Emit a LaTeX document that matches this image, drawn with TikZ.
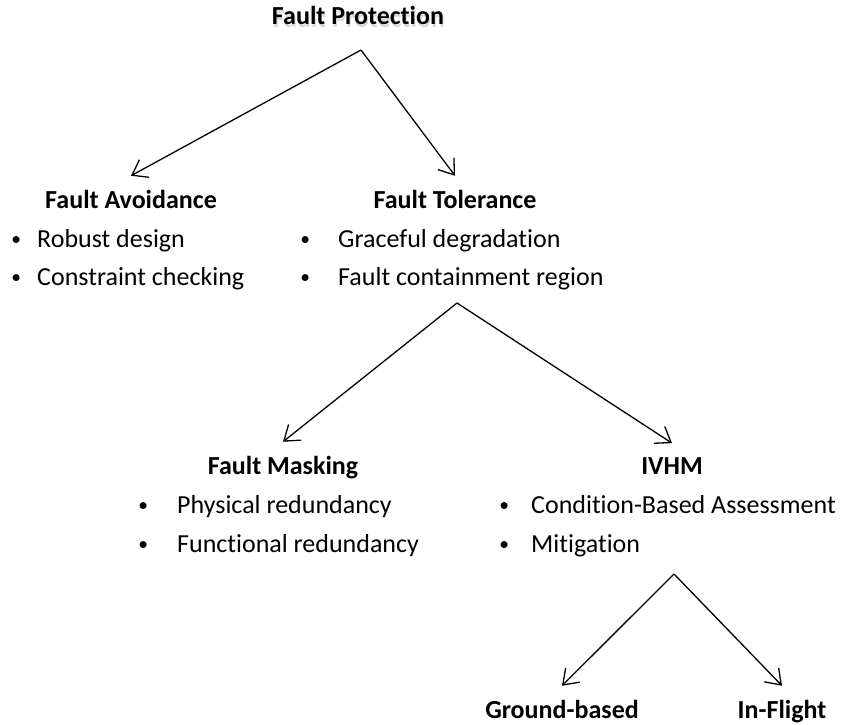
\documentclass[tikz,border=0pt]{standalone}
\usepackage{graphicx}
\usepackage{fontspec}
\setmainfont{Carlito}[Ligatures=NoCommon]
\usetikzlibrary{arrows.meta,positioning,calc}

\newcommand{\basefont}{\fontsize{26}{31}\selectfont}
% soft drop shadow under the title text
\newcommand{\shadowtext}[1]{\rlap{\raisebox{-2.5pt}{\kern1pt\textcolor{black!14}{#1}}}#1}
% bullet hung to the left of an item
\newcommand{\bul}[1]{\llap{\raisebox{1.5pt}{\scalebox{0.75}{\textbullet}}\hspace{#1}}}

\tikzset{
  headnode/.style={font=\basefont\bfseries, inner sep=0pt, outer ysep=14pt, anchor=base},
  itemnode/.style={font=\basefont, inner sep=0pt, anchor=base west},
  treearrow/.style={line width=1.3pt, -{Straight Barb[length=14pt,width=20pt]}},
}

\begin{document}
\begin{tikzpicture}[x=1pt, y=-1pt]
  \useasboundingbox (0,0) rectangle (844,725);

  % ── Root ──
  \node[headnode] (FP) at (358,25) {\shadowtext{Fault Protection}};
  \coordinate (FPapex) at (361,50);

  % ── First level ──
  \node[headnode] (FA) at (131,208) {Fault Avoidance};
  \node[itemnode] (FA1) at (37,247) {\bul{16pt}Robust design};
  \node[itemnode] (FA2) at (37,285) {\bul{16pt}Constraint checking};

  \node[headnode] (FT) at (455,208) {Fault Tolerance};
  \node[itemnode] (FT1) at (338,247) {\bul{28pt}Graceful degradation};
  \node[itemnode] (FT2) at (338,285) {\bul{28pt}Fault containment region};
  \coordinate (FTapex) at (457,303);

  % ── Second level ──
  \node[headnode] (FM) at (283,474) {Fault Masking};
  \node[itemnode] (FM1) at (177,513) {\bul{29pt}Physical redundancy};
  \node[itemnode] (FM2) at (177,552) {\bul{29pt}Functional redundancy};

  \node[headnode] (IV) at (672,474) {IVHM};
  \node[itemnode] (IV1) at (531,513) {\bul{22pt}Condition-Based Assessment};
  \node[itemnode] (IV2) at (531,552) {\bul{22pt}Mitigation};
  \coordinate (IVapex) at (674,574);

  % ── Third level ──
  \node[headnode] (GB) at (562,718) {Ground-based};
  \node[headnode] (IF) at (782,718) {In-Flight};

  % ── Arrows ──
  \draw[treearrow] (FPapex) -- (FA.north);
  \draw[treearrow] (FPapex) -- (FT.north);
  \draw[treearrow] (FTapex) -- (FM.north);
  \draw[treearrow] (FTapex) -- (IV.north);
  \draw[treearrow] (IVapex) -- (GB.north);
  \draw[treearrow] (IVapex) -- (IF.north);

\end{tikzpicture}
\end{document}
